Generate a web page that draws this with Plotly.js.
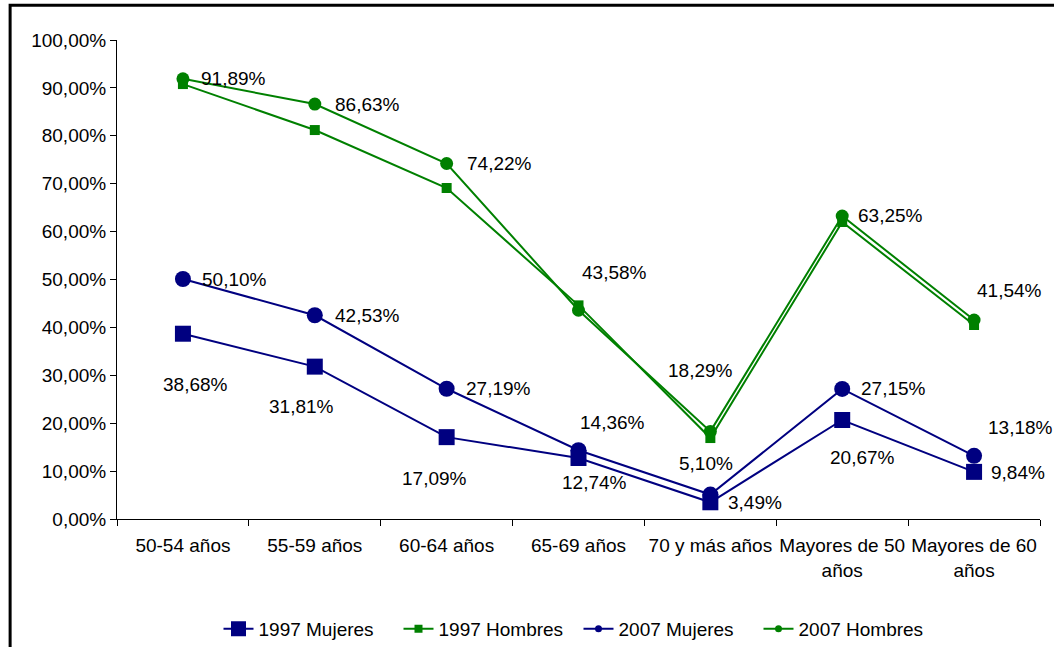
<!DOCTYPE html>
<html><head><meta charset="utf-8">
<script src="https://cdn.plot.ly/plotly-3.0.1.min.js"></script>
<style>html,body{margin:0;padding:0;background:#fff;overflow:hidden}#chart{width:1054px;height:647px}</style>
</head><body><div id="chart"></div>
<script>
const categories = ["50-54 años","55-59 años","60-64 años","65-69 años","70 y más años","Mayores de 50<br>años","Mayores de 60<br>años"];
const mujeres1997 = [38.68,31.81,17.09,12.74,3.49,20.67,9.84];
const hombres1997 = [90.8,81.2,69.1,44.6,16.9,62.0,40.5];
const mujeres2007 = [50.10,42.53,27.19,14.36,5.10,27.15,13.18];
const hombres2007 = [91.89,86.63,74.22,43.58,18.29,63.25,41.54];
const seriesNames = ["1997 Mujeres","1997 Hombres","2007 Mujeres","2007 Hombres"];

// label placement offsets [dx px, dy px (up), anchor]
const offM97 = [[13,-51,'center'],[-13,-40,'center'],[-12,-41,'center'],[16,-25,'center'],[16,0,'left'],[20,-38,'center'],[15,-1,'left']];
const offM07 = [[17,0,'left'],[18,0,'left'],[17,0,'left'],[-1,28,'left'],[-4,31,'center'],[17,0,'left'],[12,28,'left']];
const offH07 = [[16,0,'left'],[18,0,'left'],[18,0,'left'],[1,38,'left'],[-10,61,'center'],[14,1,'left'],[1,30,'left']];

const NAVY = '#000080', GREEN = '#008000';
const FONT = 'Liberation Sans, Arial, sans-serif';
const FS = 19;
const fmt = v => v.toFixed(2).replace('.', ',') + '%';

function mainTrace(y, color, symbol, size) {
  return {x: categories, y: y, type: 'scatter', mode: 'lines+markers', showlegend: false,
    line: {color: color, width: 2}, marker: {color: color, symbol: symbol, size: size}, hoverinfo: 'skip'};
}
function legendTrace(name, color, symbol, size) {
  return {x: [null], y: [null], type: 'scatter', mode: 'lines+markers', name: name,
    line: {color: color, width: 2}, marker: {color: color, symbol: symbol, size: size}};
}
const data = [
  mainTrace(mujeres1997, NAVY, 'square', 16),
  mainTrace(hombres1997, GREEN, 'square', 10),
  mainTrace(mujeres2007, NAVY, 'circle', 16),
  mainTrace(hombres2007, GREEN, 'circle', 13),
  legendTrace(seriesNames[0], NAVY, 'square', 15),
  legendTrace(seriesNames[1], GREEN, 'square', 8),
  legendTrace(seriesNames[2], NAVY, 'circle', 7),
  legendTrace(seriesNames[3], GREEN, 'circle', 7)
];

const annotations = [];
function addLabels(vals, offs) {
  vals.forEach((v, i) => {
    annotations.push({x: categories[i], y: v, xref: 'x', yref: 'y', text: fmt(v), showarrow: false,
      xanchor: offs[i][2], yanchor: 'middle', xshift: offs[i][0], yshift: offs[i][1],
      font: {family: FONT, size: FS, color: '#000'}});
  });
}
addLabels(mujeres1997, offM97);
addLabels(mujeres2007, offM07);
addLabels(hombres2007, offH07);

const layout = {
  width: 1054, height: 647,
  margin: {l: 117, r: 14, t: 40, b: 128, autoexpand: false},
  paper_bgcolor: '#fff', plot_bgcolor: '#fff',
  separators: ',.',
  font: {family: FONT, size: FS, color: '#000'},
  xaxis: {type: 'category', range: [-0.5, 6.5], tickson: 'boundaries', ticks: 'outside', ticklen: 6,
    tickcolor: '#000', showline: true, linecolor: '#000', linewidth: 1, showgrid: false, zeroline: false,
    ticklabelstandoff: 9, automargin: false, tickangle: 0,
    tickfont: {family: FONT, size: FS, color: '#000'}, fixedrange: true},
  yaxis: {range: [0, 100], dtick: 10, tick0: 0, tickformat: '.2f', ticksuffix: '%', ticks: 'outside', ticklen: 6,
    tickcolor: '#000', showline: true, linecolor: '#000', linewidth: 1, showgrid: false, zeroline: false,
    automargin: false,
    tickfont: {family: FONT, size: FS, color: '#000'}, fixedrange: true},
  legend: {orientation: 'h', x: 0.5, xanchor: 'center', y: -0.2296, yanchor: 'middle', entrywidth: 135,
    font: {family: FONT, size: FS, color: '#000'}, bgcolor: 'rgba(0,0,0,0)'},
  annotations: annotations,
  shapes: [{type: 'rect', xref: 'paper', yref: 'paper', x0: -0.1158, x1: 2, y0: -2, y1: 1.0725,
    line: {color: '#000', width: 3}, fillcolor: 'rgba(0,0,0,0)', layer: 'above'}],
  showlegend: true
};
Plotly.newPlot('chart', data, layout, {displayModeBar: false, staticPlot: true});
</script></body></html>
